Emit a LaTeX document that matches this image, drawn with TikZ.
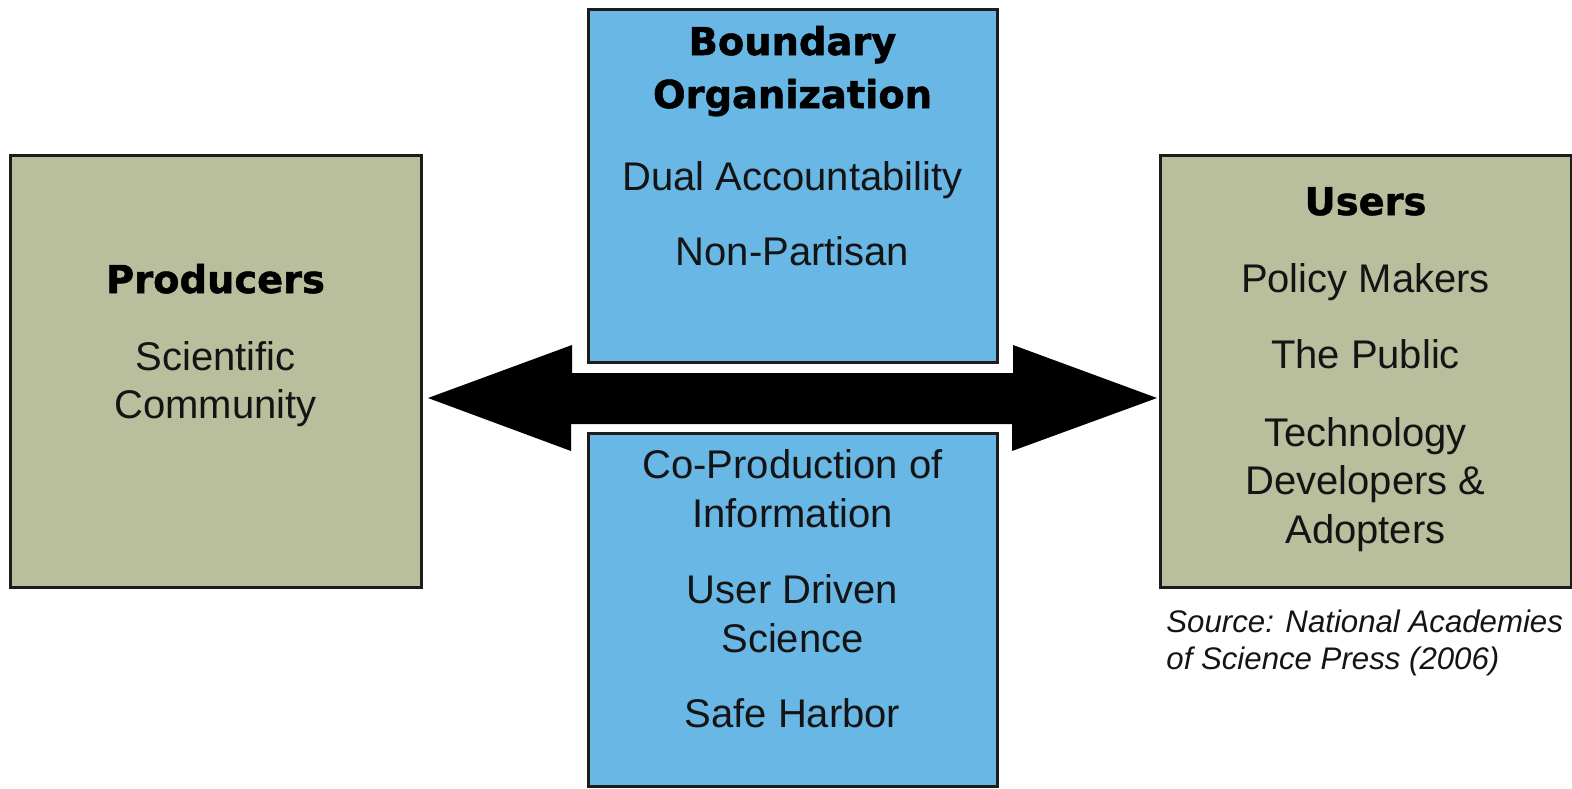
\documentclass[tikz,border=0pt]{standalone}
\usepackage{fontspec}
\setmainfont{Liberation Sans}
\newfontfamily\headfont[BoldFeatures={FakeBold=1.3}]{DejaVu Sans}
\usetikzlibrary{calc}
\definecolor{boxgreen}{RGB}{185,191,157}
\definecolor{boxblue}{RGB}{104,183,229}
\definecolor{edge}{RGB}{28,28,28}
\definecolor{ink}{RGB}{20,20,20}
\tikzset{
  panel/.style={draw=edge, line width=1.5pt, inner sep=0pt, outer sep=0pt},
  gbox/.style={panel, fill=boxgreen, minimum width=205.5pt, minimum height=216pt},
  bbox/.style={panel, fill=boxblue, minimum width=204.5pt, minimum height=176.5pt},
  body/.style={anchor=base, inner sep=0pt, text=ink, font=\fontsize{20}{24}\selectfont},
  head/.style={anchor=base, inner sep=0pt, text=black, font=\headfont\bfseries\fontsize{19.2}{24}\selectfont},
  src/.style={anchor=base west, inner sep=0pt, text=ink, font=\itshape\fontsize{15.6}{19}\selectfont},
  bigarrow/.style={fill=black, draw=none}
}
\begin{document}
\begin{tikzpicture}[x=0.5pt, y=-0.5pt]
\useasboundingbox (0,0) rectangle (1572,788);
% boxes
\node[gbox] (prod) at (215.5,371) {};
\node[gbox] (users) at (1365.5,371) {};
\node[bbox] (org) at (792.5,185.5) {};
\node[bbox] (cop) at (792.5,609.5) {};
% double block arrow between producers and users
\coordinate (ltip) at ($(prod.east)+(7,27)$);
\coordinate (rtip) at ($(users.west)+(-3,27)$);
\fill[bigarrow] (ltip) -- ++(144,-53) -- ++(0,28) -- ++(441,0) -- ++(0,-28)
  -- (rtip) -- ++(-145,53) -- ++(0,-27) -- ++(-441,0) -- ++(0,27) -- cycle;
% producers text
\node[head] (tprod) at (215.5,293) {Producers};
\node[body] (tsci) at (215.5,370) {Scientific};
\node[body] (tcom) at (215.5,418) {Community};
% boundary organization text
\node[head] (tb1) at (792.5,55) {Boundary};
\node[head] (tb2) at (792.5,108) {Organization};
\node[body] (tdual) at (792.5,190) {Dual Accountability};
\node[body] (tnon) at (792.5,265) {Non-Partisan};
% lower blue box text
\node[body] (tco1) at (792.5,478) {Co-Production of};
\node[body] (tco2) at (792.5,527) {Information};
\node[body] (tud1) at (792.5,603) {User Driven};
\node[body] (tud2) at (792.5,652) {Science};
\node[body] (tsafe) at (792.5,727) {Safe Harbor};
% users text
\node[head] (tusers) at (1365.5,215) {Users};
\node[body] (tpol) at (1365.5,292) {Policy Makers};
\node[body] (tpub) at (1365.5,368) {The Public};
\node[body] (tte1) at (1365.5,446) {Technology};
\node[body] (tte2) at (1365.5,494) {Developers \&};
\node[body] (tte3) at (1365.5,543) {Adopters};
% source
\node[src] (s1) at (1166,632) {Source: National Academies};
\node[src] (s2) at (1166,669) {of Science Press (2006)};
\end{tikzpicture}
\end{document}
